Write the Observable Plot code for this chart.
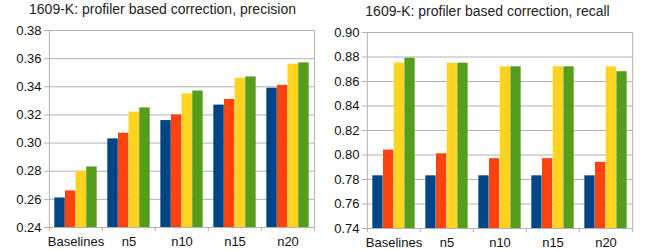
<!DOCTYPE html>
<html>
<head>
<meta charset="utf-8">
<script src="https://cdn.jsdelivr.net/npm/d3@7"></script>
<script src="https://cdn.jsdelivr.net/npm/@observablehq/plot@0.6"></script>
<style>
  html, body { margin: 0; padding: 0; background: #fff; }
  body { width: 650px; height: 251px; overflow: hidden; font-family: "Liberation Sans", Arial, sans-serif; }
  #wrap { display: flex; }
  .panel { width: 325px; }
  .title { height: 20px; line-height: 19px; font-size: 14px; color: #222; text-align: center; white-space: nowrap; }
  #right .title { margin-top: 2px; }
  svg [aria-label="y-axis tick"] { stroke: #b3b3b3; }
</style>
</head>
<body>
<div id="wrap">
  <div class="panel" id="left"><div class="title">1609-K: profiler based correction, precision</div></div>
  <div class="panel" id="right"><div class="title">1609-K: profiler based correction, recall</div></div>
</div>
<script>
const categories = ["Baselines", "n5", "n10", "n15", "n20"];
const seriesNames = ["Series 1", "Series 2", "Series 3", "Series 4"];
const seriesColors = ["#004586", "#ff420e", "#ffd320", "#579d1c"];

// precision
const precision1 = [0.261, 0.303, 0.316, 0.327, 0.339];
const precision2 = [0.266, 0.307, 0.320, 0.331, 0.341];
const precision3 = [0.280, 0.322, 0.335, 0.346, 0.356];
const precision4 = [0.283, 0.325, 0.337, 0.347, 0.357];
const precisionTicks = [0.24, 0.26, 0.28, 0.30, 0.32, 0.34, 0.36, 0.38];

// recall
const recall1 = [0.783, 0.783, 0.783, 0.783, 0.783];
const recall2 = [0.804, 0.801, 0.797, 0.797, 0.794];
const recall3 = [0.875, 0.875, 0.872, 0.872, 0.872];
const recall4 = [0.879, 0.875, 0.872, 0.872, 0.868];
const recallTicks = [0.74, 0.76, 0.78, 0.80, 0.82, 0.84, 0.86, 0.88, 0.90];

function chart({series, ticks, width, height, marginLeft, marginRight, marginTop, marginBottom}) {
  const ymin = ticks[0], ymax = ticks[ticks.length - 1];
  const bw = (width - marginLeft - marginRight) / categories.length;
  const grid = "#b3b3b3";
  const rows = categories.map((c, i) => ({cat: c, values: series.map(s => s[i])}));
  const barMarks = series.map((s, j) => Plot.barY(rows, {
    x: "cat",
    y1: ymin,
    y2: d => d.values[j],
    fill: seriesColors[j],
    insetLeft: bw * (0.1 + 0.2 * j),
    insetRight: bw * (0.1 + 0.2 * (3 - j)),
    title: d => `${d.cat} ${seriesNames[j]}: ${d.values[j]}`
  }));
  return Plot.plot({
    width, height, marginLeft, marginRight, marginTop, marginBottom,
    style: {fontFamily: "'Liberation Sans', Arial, sans-serif", fontSize: "13px", color: "#111", background: "#fff"},
    x: {domain: categories, padding: 0, label: null, tickSize: 0, tickPadding: 9},
    y: {domain: [ymin, ymax], ticks, tickFormat: d3.format(".2f"), label: null, tickSize: 4, tickPadding: 3},
    marks: [
      Plot.ruleY(ticks, {stroke: grid}),
      ...barMarks,
      Plot.ruleX([categories[0]], {dx: -bw / 2, stroke: grid, insetBottom: -4}),
      Plot.ruleX([categories[categories.length - 1]], {dx: bw / 2, stroke: grid, insetBottom: -4}),
      Plot.ruleX(categories.slice(1), {dx: -bw / 2, y1: ymin, y2: ymin, stroke: grid, insetBottom: -4}),
      Plot.ruleY([ymax], {stroke: grid})
    ]
  });
}

document.getElementById("left").appendChild(chart({
  series: [precision1, precision2, precision3, precision4],
  ticks: precisionTicks,
  width: 325, height: 231, marginLeft: 48, marginRight: 11, marginTop: 10, marginBottom: 24
}));
document.getElementById("right").appendChild(chart({
  series: [recall1, recall2, recall3, recall4],
  ticks: recallTicks,
  width: 325, height: 229, marginLeft: 41, marginRight: 17, marginTop: 10, marginBottom: 23
}));
</script>
</body>
</html>
